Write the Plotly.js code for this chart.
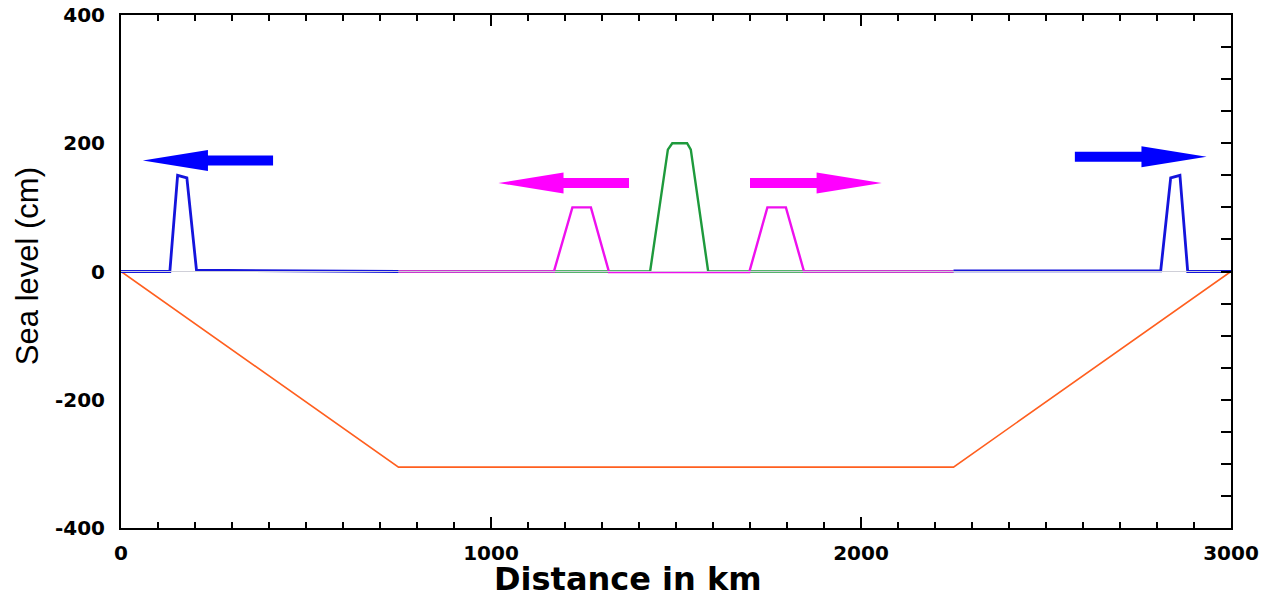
<!DOCTYPE html>
<html><head><meta charset="utf-8">
<script src="https://cdn.plot.ly/plotly-3.0.1.min.js"></script>
<style>html,body{margin:0;padding:0;background:#fff}#chart{width:1270px;height:601px}</style>
</head><body><div id="chart"></div>
<script>
// ---- data ----
const xBase = [0, 3000];
const yBase = [0, 0];

const xBottom = [0, 750, 2250, 3000];
const yBottom = [0, -305, -305, 0];

const xBlueLeft = [0, 132, 153, 178, 204, 400, 750];
const yBlueLeft = [0, 0, 150, 146, 2, 1, 0];

const xBlueRight = [2250, 2600, 2810, 2837, 2862, 2883, 3000];
const yBlueRight = [1, 1, 1, 146, 150, 0, 0];

const xMagenta = [750, 1170, 1220, 1270, 1319, 1698, 1747, 1797, 1846, 2250];
const yMagenta = [0, 0, 100, 100, -1, -1, 100, 100, 0, 0];

const xGreen = [750, 1430, 1478, 1490, 1530, 1540, 1587, 2250];
const yGreen = [0, 0, 190, 200, 200, 190, 0, 0];

// arrows: tail x, tip x, level (cm)
const arrowTail = [411, 1373, 1700, 2578];
const arrowTip = [59, 1020, 2056, 2934];
const arrowLevel = [173, 138, 138, 179];
const arrowColors = ['#0000ff', '#ff00ff', '#ff00ff', '#0000ff'];

const xTickVals = [0, 1000, 2000, 3000];
const yTickVals = [-400, -200, 0, 200, 400];

// ---- style ----
const headLen = 176, shaftHalf = 7.8, headHalf = 16.4;
const shapes = arrowTail.map((t, i) => {
  const tip = arrowTip[i], y = arrowLevel[i];
  const dir = Math.sign(tip - t);
  const hb = tip - dir * headLen;
  const p = `M ${t} ${y - shaftHalf} L ${hb} ${y - shaftHalf} L ${hb} ${y - headHalf} L ${tip} ${y} L ${hb} ${y + headHalf} L ${hb} ${y + shaftHalf} L ${t} ${y + shaftHalf} Z`;
  return {type: 'path', xref: 'x', yref: 'y', path: p, fillcolor: arrowColors[i], line: {width: 0}, layer: 'above'};
});

const traces = [
  {x: xBase, y: yBase, mode: 'lines', line: {color: '#cfcfd8', width: 1}, xaxis: 'x', yaxis: 'y2', hoverinfo: 'skip'},
  {x: xBottom, y: yBottom, mode: 'lines', line: {color: '#ff5f1f', width: 1.6}},
  {x: xGreen, y: yGreen, mode: 'lines', line: {color: '#1e9a3c', width: 2.4}},
  {x: xMagenta, y: yMagenta, mode: 'lines', line: {color: '#ee10ee', width: 2.4}},
  {x: xBlueLeft, y: yBlueLeft, mode: 'lines', line: {color: '#1414dc', width: 2.8}},
  {x: xBlueRight, y: yBlueRight, mode: 'lines', line: {color: '#1414dc', width: 2.8}}
];

const tickFont = {family: 'DejaVu Sans', size: 20, color: '#000', weight: 'bold'};

const layout = {
  width: 1270, height: 601,
  margin: {l: 121, r: 39, t: 15, b: 73},
  paper_bgcolor: '#fff', plot_bgcolor: '#fff',
  showlegend: false,
  xaxis: {
    range: [0, 3000], tickvals: xTickVals, ticktext: xTickVals.map(String),
    ticks: 'inside', ticklen: 11, tickwidth: 2, tickcolor: '#000',
    minor: {dtick: 100, ticks: 'inside', ticklen: 6, tickwidth: 2, tickcolor: '#000'},
    showline: true, linewidth: 2, linecolor: '#000', mirror: 'ticks',
    showgrid: false, zeroline: false, tickfont: tickFont, ticklabelstandoff: 6
  },
  yaxis: {
    range: [-400, 400], tickvals: yTickVals, ticktext: yTickVals.map(String),
    ticks: '', showline: true, linewidth: 2, linecolor: '#000',
    showgrid: false, zeroline: false, tickfont: tickFont, ticklabelstandoff: 10
  },
  yaxis2: {
    range: [-400, 400], overlaying: 'y', side: 'right', dtick: 50,
    ticks: 'inside', ticklen: 10, tickwidth: 2, tickcolor: '#000',
    showticklabels: false, showline: true, linewidth: 2, linecolor: '#000',
    showgrid: false, zeroline: false
  },
  shapes: shapes,
  annotations: [
    {text: 'Distance in km', xref: 'paper', yref: 'paper', x: 0.457, y: -0.058, xanchor: 'center', yanchor: 'top',
     showarrow: false, font: {family: 'DejaVu Sans', size: 32, color: '#000', weight: 'bold'}},
    {text: 'Sea level (cm)', xref: 'paper', yref: 'paper', x: -0.084, y: 0.51, xanchor: 'center', yanchor: 'middle',
     textangle: -90, showarrow: false, font: {family: 'Liberation Sans', size: 31, color: '#000'}}
  ]
};

Plotly.newPlot('chart', traces, layout, {displayModeBar: false, staticPlot: true});
</script></body></html>
